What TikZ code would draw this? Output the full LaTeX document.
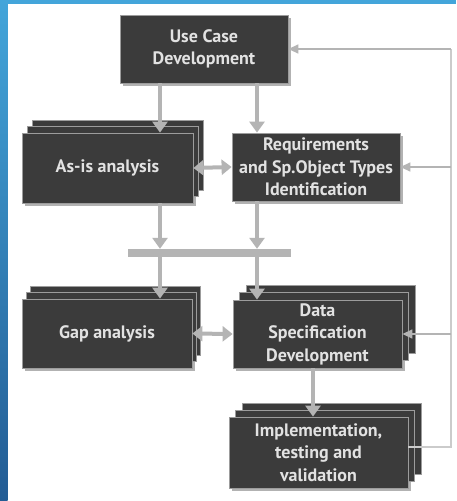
\documentclass[tikz,border=0pt]{standalone}
\usepackage{fontspec}
\setmainfont{PT Sans}
\usetikzlibrary{arrows.meta,shadows,positioning}

\definecolor{fondocaja}{HTML}{3B3B3B}
\definecolor{bordecaja}{HTML}{9C9C9C}
\definecolor{textocaja}{HTML}{E2E2E2}
\definecolor{gris}{HTML}{B4B4B4}
\definecolor{azulclaro}{HTML}{43A5DA}
\definecolor{azuloscuro}{HTML}{235C94}

\begin{document}
\begin{tikzpicture}[x=1pt,y=-1pt,
  caja/.style={rectangle, fill=fondocaja, draw=bordecaja, line width=0.8pt,
    text=textocaja, align=center, inner sep=0pt,
    font=\fontsize{18}{22.5}\selectfont\bfseries},
  sombra/.style={drop shadow={shadow xshift=2.5pt, shadow yshift=-2.5pt,
    fill=black!30, opacity=1}},
  pila/.style 2 args={double copy shadow={shadow xshift=#1, shadow yshift=#2}},
  flecha/.style={draw=gris, line width=4pt, -{Triangle[width=15pt,length=11pt]}},
  doble/.style={draw=gris, line width=4pt,
    {Triangle[width=15pt,length=10pt]}-{Triangle[width=15pt,length=10pt]}},
  retro/.style={draw=gris, line width=1.5pt, -{Triangle[width=9pt,length=10pt]}},
  linea/.style={draw=gris!70, line width=1.2pt}]
  \useasboundingbox (0,0) rectangle (456,501);

  % Fondo
  \fill[azulclaro] (0,0) rectangle (456,3.5);
  \shade[top color=azulclaro, bottom color=azuloscuro] (0,0) rectangle (7.5,501);
  \fill[white] (7.5,3.5) rectangle (456,501);

  % Cajas
  \node[caja, sombra, minimum width=168pt, minimum height=68pt] (ucd) at (204,49)
    {Use Case\\Development};
  \node[caja, sombra, pila={5pt}{6.5pt}, minimum width=171pt, minimum height=70pt]
    (asis) at (107.5,168) {As-is analysis};
  \node[caja, sombra, minimum width=168pt, minimum height=68pt] (req) at (316,167)
    {Requirements\\and Sp.Object Types\\Identification};
  \node[caja, sombra, pila={4pt}{6.5pt}, minimum width=170pt, minimum height=69pt]
    (gap) at (107,333.5) {Gap analysis};
  \node[caja, sombra, pila={6.5pt}{7.5pt}, minimum width=169pt, minimum height=68pt]
    (dsd) at (317.5,334) {Data\\Specification\\Development};
  \node[caja, sombra, pila={6.5pt}{7pt}, minimum width=179pt, minimum height=71pt]
    (impl) at (318.5,452.5) {Implementation,\\testing and\\validation};

  % Barra de union
  \node[fill=gris, inner sep=0pt, minimum width=163pt, minimum height=8pt] (barra)
    at (209,253) {};

  % Columnas
  \coordinate (c1) at (160,0);
  \coordinate (c2) at (257,0);
  \coordinate (c3) at (313,0);
  \coordinate (der) at (451,0);

  % Flechas hacia abajo
  \draw[flecha] (ucd.south -| c1) -- (asis.north -| c1);
  \draw[flecha] (ucd.south -| c2) -- (req.north -| c2);
  \draw[flecha] (asis.south -| c1) -- (barra.north -| c1);
  \draw[flecha] (req.south -| c2) -- (barra.north -| c2);
  \draw[flecha] (barra.south -| c1) -- (gap.north -| c1);
  \draw[flecha] (barra.south -| c2) -- (dsd.north -| c2);
  \draw[flecha] (dsd.south -| c3) -- (impl.north -| c3);

  % Flechas dobles
  \draw[doble] (asis.east) -- (req.west);
  \draw[doble] (gap.east) -- (dsd.west);

  % Retroalimentacion
  \draw[linea] ([yshift=5.5pt]impl.east) -- ([yshift=5.5pt]impl.east -| der)
    -- (ucd.east -| der);
  \draw[retro] (ucd.east -| der) -- (ucd.east);
  \draw[retro] (req.east -| der) -- (req.east);
  \draw[retro] (dsd.east -| der) -- (dsd.east);
\end{tikzpicture}
\end{document}
